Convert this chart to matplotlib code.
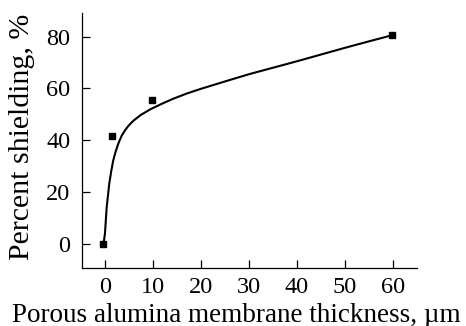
import matplotlib
matplotlib.use("Agg")
import matplotlib.pyplot as plt

# measured points
thickness = [-0.4, 1.5, 9.7, 59.7]
shielding = [0.0, 41.6, 55.6, 80.5]

# fitted curve
curve_x = [-0.3, 0.0, 0.35, 0.9, 1.3, 1.7, 2.2, 2.8, 3.5, 4.2, 5.0, 5.9, 7.5, 9.5,
           12.0, 14.2, 17.0, 19.9, 25.0, 30.0, 35.0, 40.0, 45.0, 50.0, 55.0, 59.7]
curve_y = [0.0, 4.0, 14.0, 23.3, 28.0, 32.0, 35.5, 38.8, 41.8, 43.9, 45.8, 47.5, 49.8, 52.0,
           54.2, 56.0, 58.0, 59.8, 62.7, 65.5, 68.0, 70.5, 73.1, 75.7, 78.2, 80.5]

x_ticks = [0, 10, 20, 30, 40, 50, 60]
y_ticks = [0, 20, 40, 60, 80]

plt.rcParams['font.family'] = ['Liberation Serif', 'DejaVu Serif']

fig = plt.figure(figsize=(4.66, 3.26), dpi=100)
ax = fig.add_axes([0.1753, 0.177, 0.894 - 0.1753, 0.959 - 0.177])

ax.plot(curve_x, curve_y, color='black', linewidth=1.5)
ax.plot(thickness, shielding, linestyle='none', marker='s', markersize=4.5,
        color='black')

ax.set_xlim(-4.85, 64.9)
ax.set_ylim(-9.5, 89)
ax.set_xticks(x_ticks)
ax.set_yticks(y_ticks)

for side in ['top', 'right']:
    ax.spines[side].set_visible(False)
for side in ['left', 'bottom']:
    ax.spines[side].set_linewidth(0.9)

ax.tick_params(direction='in', length=6, width=0.9, labelsize=17.5)
ax.tick_params(axis='x', pad=6)
ax.tick_params(axis='y', pad=8)

# axis titles placed by hand to sit where the original has them
fig.text(236 / 466, 4.5 / 326, 'Porous alumina membrane thickness, µm',
         fontsize=19.5, ha='center', va='baseline')
fig.text(22 / 466, 1 - 136.5 / 326, 'Percent shielding, %', fontsize=21.5,
         rotation=90, ha='center', va='center')

fig.savefig('out.png', dpi=100)
